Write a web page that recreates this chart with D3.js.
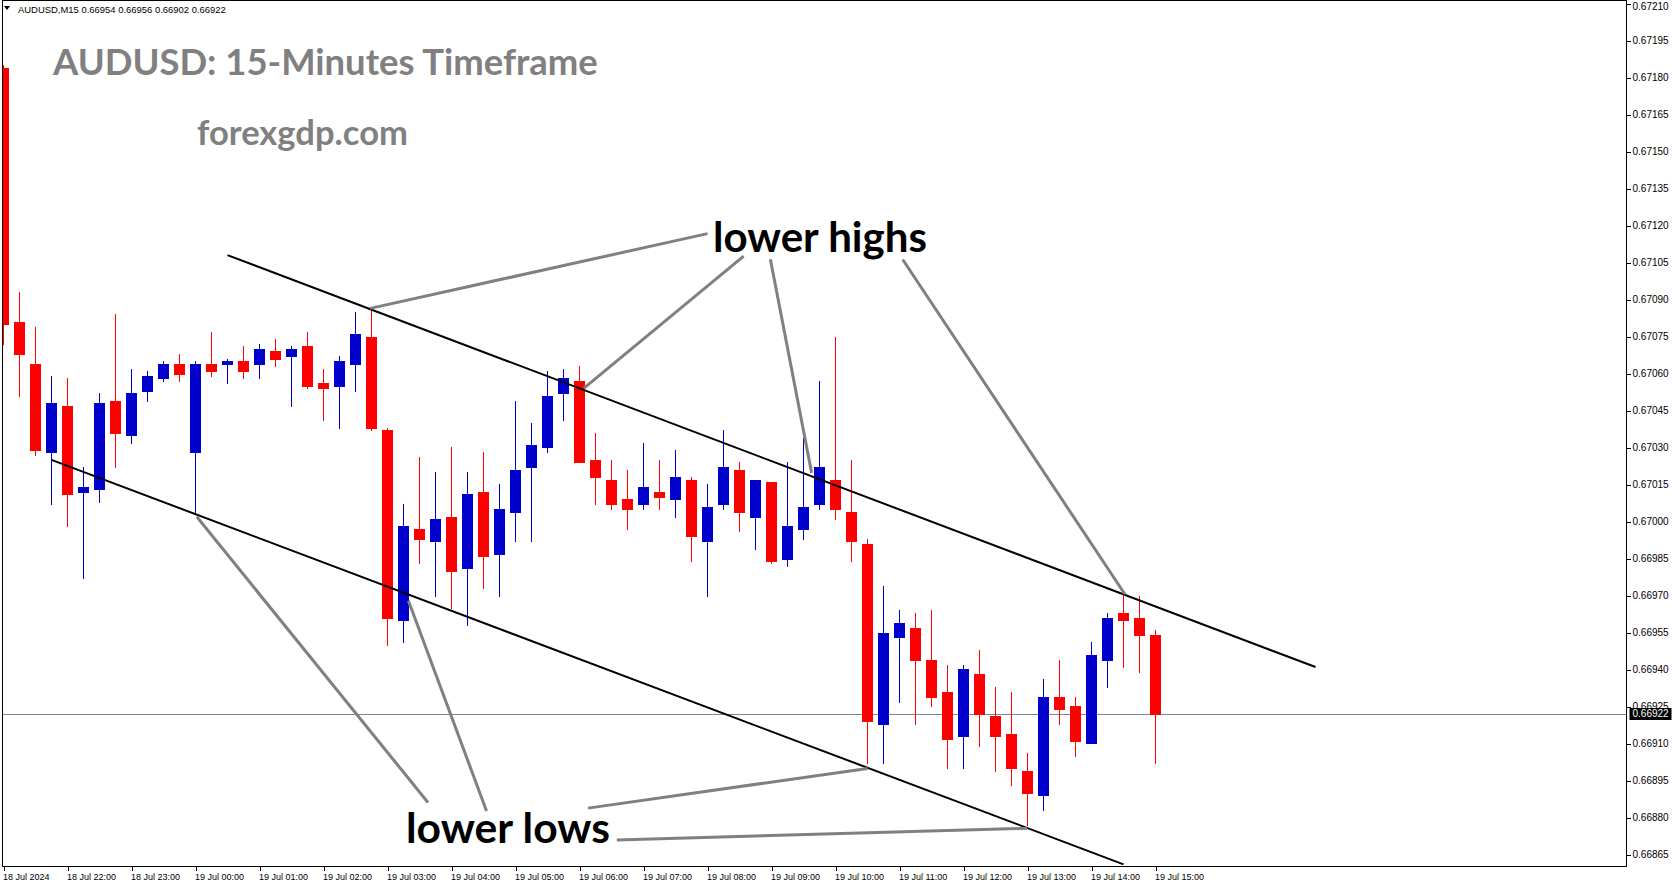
<!DOCTYPE html>
<html><head><meta charset="utf-8">
<script src="https://cdn.jsdelivr.net/npm/d3@7"></script>
<style>html,body{margin:0;padding:0;background:#fff;overflow:hidden}</style>
</head><body>
<svg id="c" width="1673" height="888"></svg>
<script>
// ---------------- data ----------------
const symbolHeader = "AUDUSD,M15  0.66954 0.66956 0.66902 0.66922";
const titleText = "AUDUSD: 15-Minutes Timeframe";
const siteText = "forexgdp.com";
// candle index 0 = 18 Jul 2024 21:00, 15-minute bars
const open  = [0.67184,0.67081,0.67064,0.67028,0.67047,0.67012,0.67013,0.67049,0.67035,0.67053,
               0.67058,0.67064,0.67028,0.67064,0.67064,0.67065,0.67064,0.67069,0.67067,0.67071,
               0.67056,0.67055,0.67064,0.67075,0.67037,0.66960,0.66997,0.66992,0.67002,0.66981,
               0.67012,0.66987,0.67004,0.67022,0.67030,0.67052,0.67057,0.67025,0.67017,0.67009,
               0.67007,0.67012,0.67009,0.67017,0.66992,0.67007,0.67021,0.67002,0.67016,0.66985,
               0.66997,0.67007,0.67017,0.67004,0.66991,0.66918,0.66953,0.66957,0.66944,0.66931,
               0.66913,0.66938,0.66921,0.66914,0.66899,0.66889,0.66929,0.66925,0.66910,0.66944,
               0.66963,0.66961,0.66954];
const high  = [0.67185,0.67093,0.67079,0.67059,0.67058,0.67022,0.67052,0.67084,0.67062,0.67061,
               0.67065,0.67068,0.67065,0.67077,0.67066,0.67071,0.67072,0.67074,0.67071,0.67077,
               0.67062,0.67067,0.67085,0.67087,0.67038,0.67007,0.67026,0.67020,0.67030,0.67020,
               0.67028,0.67015,0.67049,0.67040,0.67061,0.67062,0.67063,0.67036,0.67025,0.67021,
               0.67032,0.67025,0.67029,0.67018,0.67015,0.67037,0.67024,0.67017,0.67016,0.67024,
               0.67034,0.67057,0.67075,0.67025,0.66993,0.66974,0.66964,0.66963,0.66964,0.66942,
               0.66942,0.66948,0.66933,0.66931,0.66906,0.66936,0.66944,0.66929,0.66951,0.66963,
               0.66972,0.66970,0.66956];
const low   = [0.67072,0.67051,0.67027,0.67007,0.66998,0.66977,0.67008,0.67022,0.67032,0.67049,
               0.67057,0.67057,0.67004,0.67059,0.67056,0.67058,0.67058,0.67063,0.67047,0.67054,
               0.67041,0.67038,0.67053,0.67037,0.66950,0.66951,0.66983,0.66970,0.66965,0.66958,
               0.66973,0.66970,0.66992,0.66992,0.67028,0.67041,0.67024,0.67007,0.67005,0.66997,
               0.67005,0.67005,0.67002,0.66984,0.66970,0.67005,0.66996,0.66989,0.66983,0.66982,
               0.66993,0.67005,0.67001,0.66984,0.66902,0.66902,0.66927,0.66918,0.66925,0.66900,
               0.66900,0.66909,0.66899,0.66893,0.66877,0.66883,0.66918,0.66905,0.66910,0.66933,
               0.66941,0.66939,0.66902];
const close = [0.67080,0.67068,0.67029,0.67048,0.67011,0.67014,0.67048,0.67036,0.67052,0.67059,
               0.67064,0.67060,0.67064,0.67061,0.67065,0.67061,0.67070,0.67066,0.67070,0.67055,
               0.67054,0.67065,0.67076,0.67038,0.66961,0.66998,0.66993,0.67001,0.66980,0.67011,
               0.66986,0.67005,0.67021,0.67031,0.67051,0.67058,0.67024,0.67018,0.67007,0.67005,
               0.67014,0.67010,0.67018,0.66994,0.67006,0.67022,0.67004,0.67017,0.66984,0.66998,
               0.67006,0.67022,0.67005,0.66992,0.66919,0.66955,0.66959,0.66944,0.66929,0.66912,
               0.66940,0.66922,0.66913,0.66900,0.66890,0.66929,0.66924,0.66911,0.66946,0.66961,
               0.66960,0.66954,0.66922];
const xTickIdx = [0,4,8,12,16,20,24,28,32,36,40,44,48,52,56,60,64,68,72];
const xTickLabels = ["18 Jul 2024","18 Jul 22:00","18 Jul 23:00","19 Jul 00:00","19 Jul 01:00",
  "19 Jul 02:00","19 Jul 03:00","19 Jul 04:00","19 Jul 05:00","19 Jul 06:00","19 Jul 07:00",
  "19 Jul 08:00","19 Jul 09:00","19 Jul 10:00","19 Jul 11:00","19 Jul 12:00","19 Jul 13:00",
  "19 Jul 14:00","19 Jul 15:00"];
const yTicks = [0.67210,0.67195,0.67180,0.67165,0.67150,0.67135,0.67120,0.67105,0.67090,0.67075,
  0.67060,0.67045,0.67030,0.67015,0.67000,0.66985,0.66970,0.66955,0.66940,0.66925,0.66910,
  0.66895,0.66880,0.66865];
const currentPrice = 0.66922;
// channel lines: [candle index, price]
const upperChannel = [[14,0.67108],[82,0.66941]];
const lowerChannel = [[3,0.67025],[70,0.66861]];
// annotation pointer lines: [candle index, price] pairs
const highsPointers = [
  [[44.0,0.671167],[22.92,0.670864]],
  [[46.26,0.671076],[36.28,0.670541]],
  [[47.93,0.671063],[50.51,0.670197]],
  [[56.2,0.671062],[70.09,0.669705]]];
const lowsPointers = [
  [[26.53,0.668861],[12.08,0.670019]],
  [[30.19,0.668826],[25.31,0.669679]],
  [[36.53,0.668838],[54.0,0.668999]],
  [[38.33,0.668709],[63.97,0.668756]]];

// ---------------- layout ----------------
const L = 2.5, R = 1626.5, T = 0.5, B = 866.5;
const svg = d3.select("#c");
const x = d3.scaleLinear().domain([0,100]).range([3.5,1603.5]);
const y = d3.scaleLinear().domain([0.66865,0.67210]).range([854.5,3.5]);
const UP = "#0000CD", DN = "#FF0000";

svg.append("defs").append("clipPath").attr("id","clip")
  .append("rect").attr("x",L).attr("y",T).attr("width",R-L).attr("height",B-T);

function fit(sel, target){
  const n = sel.node(); const fs = parseFloat(sel.attr("font-size"));
  const w = n.getComputedTextLength();
  sel.attr("font-size", (fs*target/w).toFixed(2));
}

const plot = svg.append("g").attr("clip-path","url(#clip)");

// current price line
plot.append("line").attr("x1",L).attr("x2",R)
  .attr("y1",Math.round(y(currentPrice))+0.5).attr("y2",Math.round(y(currentPrice))+0.5)
  .attr("stroke","#778899").attr("stroke-width",1);

// title texts
const t1 = svg.append("text").attr("x",53).attr("y",75).attr("font-family","Lato, 'Open Sans', sans-serif")
  .attr("font-weight",700).attr("font-size",34).attr("fill","#808080").text(titleText);
fit(t1,545);
const t2 = svg.append("text").attr("x",197).attr("y",145).attr("font-family","Lato, 'Open Sans', sans-serif")
  .attr("font-weight",700).attr("font-size",30).attr("fill","#808080").text(siteText);
fit(t2,211);

// candles
const idx = d3.range(open.length);
const cg = plot.append("g").attr("shape-rendering","crispEdges");
cg.selectAll("line.w").data(idx).join("line").attr("class","w")
  .attr("x1",i=>x(i)).attr("x2",i=>x(i))
  .attr("y1",i=>Math.round(y(high[i]))).attr("y2",i=>Math.round(y(low[i]))+1)
  .attr("stroke",i=>close[i]>=open[i]?UP:DN).attr("stroke-width",1);
cg.selectAll("rect.b").data(idx).join("rect").attr("class","b")
  .attr("x",i=>x(i)-5.5).attr("width",11)
  .attr("y",i=>Math.round(y(Math.max(open[i],close[i]))))
  .attr("height",i=>Math.max(1,Math.round(y(Math.min(open[i],close[i])))-Math.round(y(Math.max(open[i],close[i])))+1))
  .attr("fill",i=>close[i]>=open[i]?UP:DN);

// channel lines
const ln = d3.line().x(d=>x(d[0])).y(d=>y(d[1]));
plot.selectAll("path.ch").data([upperChannel,lowerChannel]).join("path").attr("class","ch")
  .attr("d",ln).attr("stroke","#000").attr("stroke-width",2).attr("fill","none");

// pointer lines
plot.selectAll("path.pt").data(highsPointers.concat(lowsPointers)).join("path").attr("class","pt")
  .attr("d",ln).attr("stroke","#808080").attr("stroke-width",3).attr("fill","none");

// annotation labels
const a1 = svg.append("text").attr("x",713).attr("y",252).attr("font-family","Lato, 'Open Sans', sans-serif")
  .attr("font-weight",700).attr("font-size",40).attr("fill","#000").text("lower highs");
fit(a1,214);
const a2 = svg.append("text").attr("x",406).attr("y",843).attr("font-family","Lato, 'Open Sans', sans-serif")
  .attr("font-weight",700).attr("font-size",40).attr("fill","#000").text("lower lows");
fit(a2,204);

// frame
svg.append("rect").attr("x",L).attr("y",T).attr("width",R-L).attr("height",B-T)
  .attr("fill","none").attr("stroke","#000").attr("stroke-width",1).attr("shape-rendering","crispEdges");

// header
svg.append("path").attr("d","M4,6 L10,6 L7,10 Z").attr("fill","#000");
const hd = svg.append("text").attr("x",18).attr("y",13).attr("font-family","'Liberation Sans', Arial, sans-serif")
  .attr("font-size",10).attr("fill","#000").text(symbolHeader);
fit(hd,208);

// y axis
const ya = svg.append("g").attr("transform",`translate(${R},0)`)
  .call(d3.axisRight(y).tickValues(yTicks).tickSize(4).tickPadding(2).tickFormat(d3.format(".5f")));
ya.select(".domain").remove();
ya.selectAll("line").attr("stroke","#000").attr("shape-rendering","crispEdges");
ya.selectAll("text").attr("font-family","'Liberation Sans', Arial, sans-serif").attr("font-size",10).attr("fill","#000")
  .attr("dy",(d,i)=> i===0 ? "0.62em" : "0.32em");

// current price box
const cy = y(currentPrice);
svg.append("rect").attr("x",R+3).attr("y",Math.round(cy)-6).attr("width",42).attr("height",12).attr("fill","#000");
svg.append("text").attr("x",R+6).attr("y",cy).attr("dy","0.32em").attr("font-family","'Liberation Sans', Arial, sans-serif")
  .attr("font-size",10).attr("fill","#fff").text(d3.format(".5f")(currentPrice));

// x axis
const xa = svg.append("g").attr("transform",`translate(0,${B})`)
  .call(d3.axisBottom(x).tickValues(xTickIdx).tickSize(4).tickFormat((d,i)=>xTickLabels[i]));
xa.select(".domain").remove();
xa.selectAll("line").attr("stroke","#000").attr("shape-rendering","crispEdges");
xa.selectAll("text").attr("text-anchor","start").attr("dx",-1).attr("y",13.5).attr("dy",0)
  .attr("font-family","'Liberation Sans', Arial, sans-serif").attr("font-size",9).attr("fill","#000");
</script>
</body></html>
